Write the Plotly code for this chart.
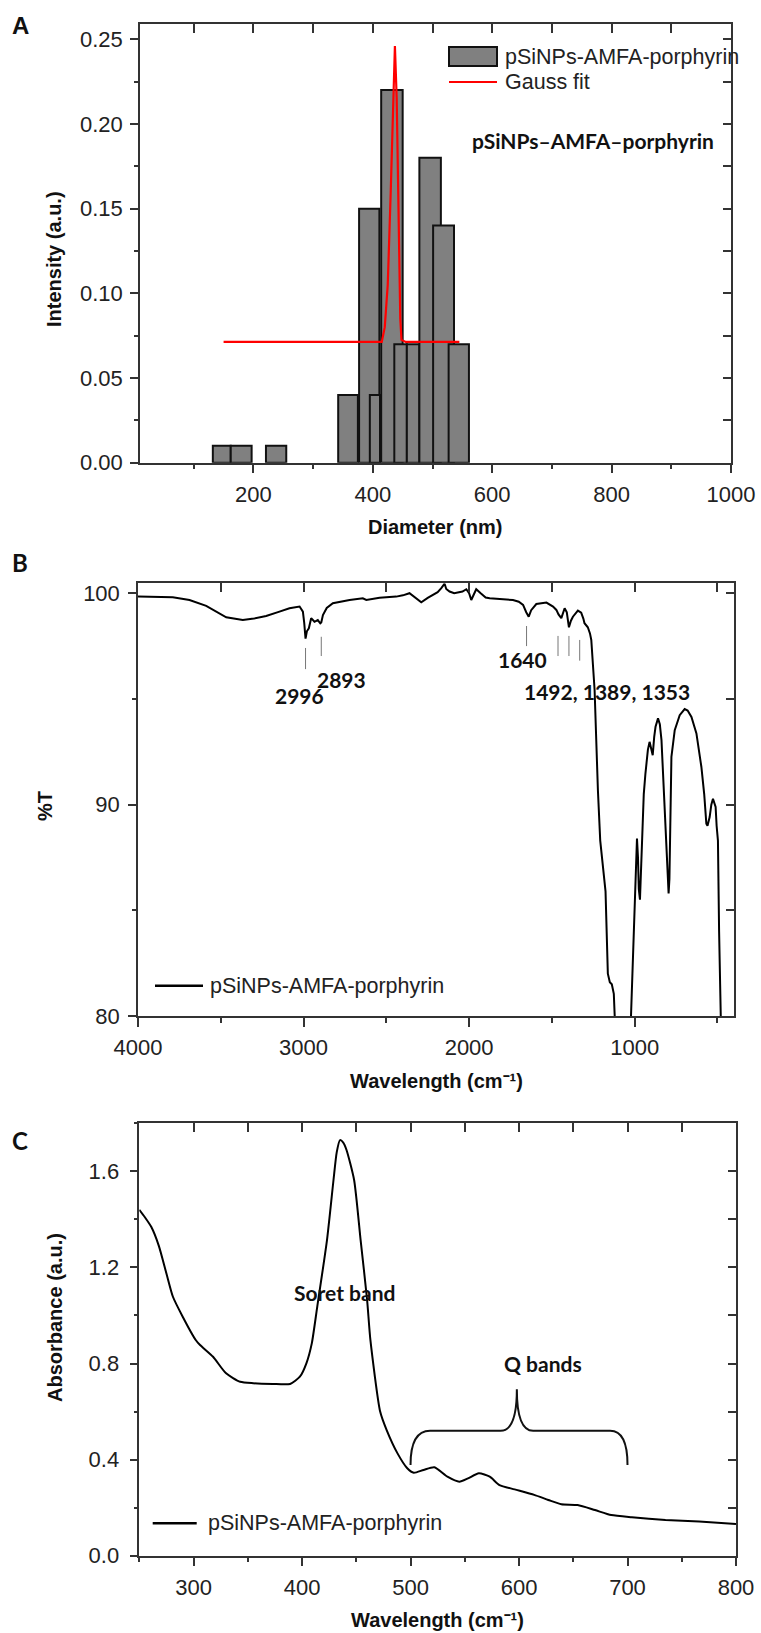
import plotly.graph_objects as go

W, H = 761, 1633

# ---------------- Panel A: size distribution ----------------
bin_start = [132, 162, 221, 342, 377, 395, 414, 436, 457, 478, 501, 527]
bin_end = [162, 197, 255, 375, 411, 412, 450, 457, 478, 514, 536, 561]
bin_intensity = [0.01, 0.01, 0.01, 0.04, 0.15, 0.04, 0.22, 0.07, 0.07, 0.18, 0.14, 0.07]

gauss_x = [150, 415, 420, 425, 430, 434, 437, 440, 443, 446, 448, 455, 545]
gauss_y = [0.0713, 0.0713, 0.080, 0.105, 0.16, 0.215, 0.246, 0.215, 0.15, 0.085, 0.0725, 0.0713, 0.0713]

# ---------------- Panel B: FTIR ----------------
ftir_wn = [4000, 3900, 3790, 3689, 3588, 3467, 3367, 3300, 3226, 3150, 3085, 3024, 3004, 2996, 2988,
           2980, 2968, 2954, 2934, 2914, 2899, 2893, 2883, 2860, 2823, 2722, 2642, 2621, 2541, 2440,
           2400, 2360, 2335, 2320, 2289, 2250, 2219, 2190, 2168, 2155, 2148, 2138, 2118, 2090, 2068,
           2040, 2017, 2000, 1987, 1970, 1957, 1930, 1900, 1876, 1800, 1735, 1700, 1674, 1655, 1640,
           1625, 1594, 1533, 1510, 1493, 1473, 1460, 1443, 1423, 1410, 1397, 1385, 1373, 1343, 1323,
           1310, 1303, 1283, 1270, 1262, 1250, 1242, 1222, 1208, 1176, 1162, 1150, 1138, 1126, 1118,
           1105, 1035, 1021, 1006, 991, 986, 980, 975, 968, 960, 955, 945, 935, 920, 910,
           900, 891, 882, 874, 859, 848, 838, 825, 811, 805, 800, 795, 790, 785, 778,
           758, 728, 698, 680, 657, 627, 597, 580, 567, 560, 547, 537, 527, 518, 511,
           505, 497, 490, 482, 470, 400]
ftir_T = [99.84, 99.84, 99.81, 99.68, 99.40, 98.86, 98.73, 98.80, 98.92, 99.12, 99.29, 99.37, 99.13, 98.60, 97.85,
          98.20, 98.34, 98.82, 98.65, 98.73, 98.58, 98.62, 98.97, 99.30, 99.53, 99.68, 99.76, 99.68, 99.79, 99.84,
          99.90, 100.0, 99.85, 99.72, 99.57, 99.78, 99.92, 100.05, 100.24, 100.35, 100.45, 100.2, 100.08, 100.0, 100.03,
          100.08, 100.19, 100.0, 99.68, 99.95, 100.19, 100.0, 99.8, 99.76, 99.72, 99.68, 99.6, 99.45, 99.1, 98.89,
          99.2, 99.49, 99.56, 99.45, 99.37, 99.21, 99.0, 98.82, 99.29, 99.1, 98.39, 98.7, 98.89, 99.18, 99.08,
          98.8, 98.58, 98.39, 98.1, 97.79, 96.5, 95.42, 90.68, 88.3, 85.9, 82.0, 81.6, 81.5, 81.05, 80.0,
          77.0, 77.0, 80.0, 83.6, 86.7, 88.4, 87.5, 86.0, 85.5, 87.0, 88.6, 90.5, 91.47, 92.6, 92.97,
          92.6, 92.34, 93.2, 93.68, 94.08, 93.8, 93.05, 90.68, 88.6, 87.5, 86.3, 85.8, 86.5, 88.5, 92.26,
          93.52, 94.23, 94.52, 94.45, 94.15, 93.37, 91.78, 90.5, 89.1, 89.0, 89.41, 90.0, 90.28, 90.1, 89.89,
          89.0, 88.3, 84.0, 80.0, 76.0, 76.0]

peak_labels = ["2996", "2893", "1640", "1492, 1389, 1353"]

# ---------------- Panel C: UV-Vis ----------------
uv_wl = [250, 255, 261, 268, 275, 281, 290, 302, 306, 318, 330, 343, 355, 373, 389, 398, 404, 409, 414,
         423, 429, 432, 435, 438, 441, 448, 454, 460, 463, 472, 478, 488, 497, 503, 512, 522, 534,
         545, 553, 563, 573, 582, 596, 614, 627, 639, 654, 670, 685, 704, 735, 766, 800]
uv_abs = [1.44, 1.41, 1.369, 1.29, 1.175, 1.078, 0.995, 0.898, 0.877, 0.828, 0.759, 0.724, 0.718, 0.715, 0.715,
          0.745, 0.801, 0.884, 1.036, 1.314, 1.564, 1.68, 1.73, 1.72, 1.689, 1.564, 1.314, 1.064, 0.898,
          0.60, 0.523, 0.426, 0.364, 0.345, 0.357, 0.368, 0.329, 0.308, 0.322, 0.343, 0.329, 0.294, 0.276,
          0.253, 0.232, 0.214, 0.211, 0.190, 0.169, 0.160, 0.149, 0.142, 0.132]

series_name = "pSiNPs-AMFA-porphyrin"

# ---------------- helpers ----------------
def fx(px):
    return px / W

def fy(py):
    return 1 - py / H

TICK_FONT = dict(family="Liberation Sans, Arial, sans-serif", size=22, color="#222")
TITLE_FONT = dict(family="Liberation Sans, Arial, sans-serif", size=20, color="#111")
LABEL_FONT = dict(family="Lato, Open Sans, sans-serif", size=21, color="#111")
AX_COLOR = "#333"

fig = go.Figure()

bin_width = [e - s for s, e in zip(bin_start, bin_end)]
fig.add_trace(go.Bar(x=bin_start, y=bin_intensity, width=bin_width, offset=0,
                     marker=dict(color="#808080", line=dict(color="#111", width=2)),
                     xaxis="x", yaxis="y", showlegend=False, name=series_name))
fig.add_trace(go.Scatter(x=gauss_x, y=gauss_y, mode="lines", line=dict(color="#ff0000", width=2.2),
                         xaxis="x", yaxis="y", showlegend=False, name="Gauss fit"))
fig.add_trace(go.Scatter(x=ftir_wn, y=ftir_T, mode="lines", line=dict(color="#000", width=2),
                         xaxis="x2", yaxis="y2", showlegend=False, name=series_name))
fig.add_trace(go.Scatter(x=uv_wl, y=uv_abs, mode="lines",
                         line=dict(color="#000", width=2, shape="spline", smoothing=0.6),
                         xaxis="x3", yaxis="y3", showlegend=False, name=series_name))

# invisible helper traces so the mirrored (inward tick) axes are drawn
for xa, ya, xs, ys in [("x4", "y", gauss_x, gauss_y), ("x", "y4", gauss_x, gauss_y),
                       ("x5", "y2", ftir_wn, ftir_T), ("x2", "y5", ftir_wn, ftir_T),
                       ("x6", "y3", uv_wl, uv_abs), ("x3", "y6", uv_wl, uv_abs)]:
    fig.add_trace(go.Scatter(x=xs, y=ys, mode="lines", opacity=0, line=dict(width=0),
                             xaxis=xa, yaxis=ya, showlegend=False, hoverinfo="skip"))

def main_axis(domain, rng, dtick, ticklen, minor_dtick, minor_len, **kw):
    d = dict(domain=domain, range=rng, dtick=dtick, tick0=0, ticks="outside", ticklen=ticklen,
             tickwidth=1.5, tickcolor=AX_COLOR, showline=True, linecolor=AX_COLOR, linewidth=1.5,
             mirror=True, showgrid=False, zeroline=False, tickfont=TICK_FONT, automargin=False,
             minor=dict(dtick=minor_dtick, ticks="outside", ticklen=minor_len, tickwidth=1.5,
                        tickcolor=AX_COLOR, showgrid=False))
    d.update(kw)
    return d

def mirror_axis(over, side, anchor, rng, dtick, ticklen):
    return dict(overlaying=over, side=side, anchor=anchor, range=rng, dtick=dtick, tick0=0,
                ticks="inside", ticklen=ticklen, tickwidth=1.5, tickcolor=AX_COLOR, automargin=False,
                showticklabels=False, showline=False, showgrid=False, zeroline=False)

xA = [fx(140), fx(731)]
yA = [fy(462.7), fy(24)]
xB = [fx(138), fx(734)]
yB = [fy(1016), fy(583.3)]
xC = [fx(139.3), fx(736)]
yC = [fy(1555.7), fy(1123.3)]

rxA, ryA = [10, 1000], [0, 0.259]
rxB, ryB = [4000, 400], [80, 100.47]
rxC, ryC = [250, 800], [0, 1.8]

fig.update_layout(
    template="none",
    width=W, height=H, margin=dict(l=0, r=0, t=0, b=0, pad=0, autoexpand=False),
    paper_bgcolor="white", plot_bgcolor="white", barmode="overlay", showlegend=False,
    xaxis=main_axis(xA, rxA, 200, 9, 100, 5, anchor="y", ticklabelstandoff=2),
    yaxis=main_axis(yA, ryA, 0.05, 8, 0.025, 4, anchor="x", tickformat=".2f", ticklabelstandoff=3),
    xaxis2=main_axis(xB, rxB, 1000, 9, 500, 5, anchor="y2", ticklabelstandoff=2),
    yaxis2=main_axis(yB, ryB, 10, 8, 5, 4, anchor="x2", ticklabelstandoff=4),
    xaxis3=main_axis(xC, rxC, 100, 9, 50, 5, anchor="y3", ticklabelstandoff=2),
    yaxis3=main_axis(yC, ryC, 0.4, 8, 0.2, 4, anchor="x3", tickformat=".1f", ticklabelstandoff=6),
    xaxis4=mirror_axis("x", "top", "y", rxA, 100, 9),
    yaxis4=mirror_axis("y", "right", "x", ryA, 0.025, 8),
    xaxis5=mirror_axis("x2", "top", "y2", rxB, 500, 9),
    yaxis5=mirror_axis("y2", "right", "x2", ryB, 5, 8),
    xaxis6=mirror_axis("x3", "top", "y3", rxC, 50, 9),
    yaxis6=mirror_axis("y3", "right", "x3", ryC, 0.2, 8),
)

ann = []
shapes = []

def paper_text(text, px, py, font, angle=0, xanchor="center"):
    ann.append(dict(text=text, x=fx(px), y=fy(py), xref="paper", yref="paper", showarrow=False,
                    font=font, textangle=angle, xanchor=xanchor, yanchor="middle"))

PANEL_FONT = dict(family="Liberation Sans, Arial, sans-serif", size=24, color="#111")
paper_text("<b>A</b>", 20, 25, PANEL_FONT)
paper_text("<b>B</b>", 20, 562, dict(PANEL_FONT, family="Lato, sans-serif"))
paper_text("<b>C</b>", 20, 1140, dict(PANEL_FONT, family="Lato, sans-serif"))

paper_text("<b>Diameter (nm)</b>", 435, 527, TITLE_FONT)
paper_text("<b>Intensity (a.u.)</b>", 54, 259, TITLE_FONT, angle=-90)
paper_text("<b>Wavelength (cm\u207b\u00b9)</b>", 436, 1081, TITLE_FONT)
paper_text("<b>%T</b>", 45, 806, TITLE_FONT, angle=-90)
paper_text("<b>Wavelength (cm\u207b\u00b9)</b>", 437, 1620, TITLE_FONT)
paper_text("<b>Absorbance (a.u.)</b>", 55, 1318, TITLE_FONT, angle=-90)

LEG_FONT = dict(family="Liberation Sans, Arial, sans-serif", size=21.5, color="#222")
shapes.append(dict(type="rect", xref="paper", yref="paper", x0=fx(449), x1=fx(497), y0=fy(66), y1=fy(47),
                   fillcolor="#808080", line=dict(color="#111", width=2)))
shapes.append(dict(type="line", xref="paper", yref="paper", x0=fx(449), x1=fx(497), y0=fy(82), y1=fy(82),
                   line=dict(color="#ff0000", width=2)))
paper_text(series_name, 503, 57, LEG_FONT, xanchor="left")
paper_text("Gauss fit", 503, 82, LEG_FONT, xanchor="left")
paper_text("<b>pSiNPs\u2013AMFA\u2013porphyrin</b>", 593, 140, LABEL_FONT)

shapes.append(dict(type="line", xref="paper", yref="paper", x0=fx(155), x1=fx(203), y0=fy(985.7), y1=fy(985.7),
                   line=dict(color="#000", width=2.5)))
paper_text(series_name, 208, 985.7, LEG_FONT, xanchor="left")
shapes.append(dict(type="line", xref="paper", yref="paper", x0=fx(152.7), x1=fx(196.7), y0=fy(1523.3), y1=fy(1523.3),
                   line=dict(color="#000", width=2.5)))
paper_text(series_name, 206, 1523.3, LEG_FONT, xanchor="left")

peak_lines = [(2988, 97.41, 96.41), (2893, 97.94, 97.03), (1653, 98.45, 97.50),
              (1463, 97.98, 97.03), (1397, 97.98, 97.03), (1332, 97.79, 96.81)]
for xv, y0, y1 in peak_lines:
    shapes.append(dict(type="line", xref="x2", yref="y2", x0=xv, x1=xv, y0=y0, y1=y1,
                       line=dict(color="#777", width=1)))
for txt, xv, yv in zip(peak_labels, [3024, 2773, 1677, 1169], [95.18, 95.92, 96.87, 95.34]):
    ann.append(dict(text="<b>%s</b>" % txt, x=xv, y=yv, xref="x2", yref="y2", showarrow=False,
                    font=LABEL_FONT, xanchor="center", yanchor="middle"))

ann.append(dict(text="<b>Soret band</b>", x=439, y=1.096, xref="x3", yref="y3", showarrow=False,
                font=LABEL_FONT, xanchor="center", yanchor="middle"))
ann.append(dict(text="<b>Q bands</b>", x=622, y=0.80, xref="x3", yref="y3", showarrow=False,
                font=LABEL_FONT, xanchor="center", yanchor="middle"))
shapes.append(dict(type="path", xref="x3", yref="y3",
                   path="M 500,0.378 Q 500,0.52 518,0.52 L 583,0.52 Q 598,0.52 598,0.693 "
                        "Q 598,0.52 613,0.52 L 684,0.52 Q 700,0.52 700,0.378",
                   line=dict(color="#111", width=2)))

fig.update_layout(annotations=ann, shapes=shapes)

fig.write_html("out.html", config={"displayModeBar": False},
               post_script="document.body.style.margin='0';document.body.style.overflow='hidden';")
